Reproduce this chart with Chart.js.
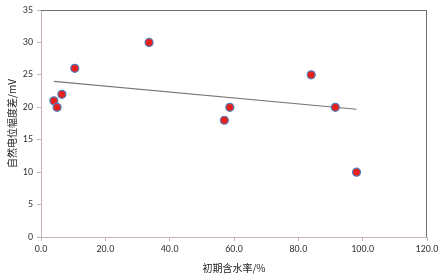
<!DOCTYPE html>
<html>
<head>
<meta charset="utf-8">
<script src="https://cdn.jsdelivr.net/npm/chart.js@4/dist/chart.umd.min.js"></script>
<style>
  html, body { margin: 0; padding: 0; background: #fff; }
  #wrap { width: 441px; height: 274px; }
</style>
</head>
<body>
<div id="wrap"><canvas id="myChart" width="441" height="274"></canvas></div>
<script>
// data
const waterRate = [4.0, 5.0, 6.5, 10.5, 33.6, 57.0, 58.7, 84.0, 91.5, 98.1];
const potentialDiff = [21, 20, 22, 26, 30, 18, 20, 25, 20, 10];
const trendX = [4.0, 98.1];
const trendY = [24.0, 19.7];
const xTicks = [0, 20, 40, 60, 80, 100, 120];
const yTicks = [0, 5, 10, 15, 20, 25, 30, 35];

const points = waterRate.map((x, i) => ({ x: x, y: potentialDiff[i] }));
const trend = trendX.map((x, i) => ({ x: x, y: trendY[i] }));

// box around the plot area
const frame = {
    id: 'frame',
    afterDraw(chart) {
        const a = chart.chartArea;
        const c = chart.ctx;
        c.save();
        c.strokeStyle = '#6e6e6e';
        c.lineWidth = 1;
        c.beginPath();
        c.moveTo(a.left, a.top + 0.5);
        c.lineTo(a.right - 0.5, a.top + 0.5);
        c.lineTo(a.right - 0.5, a.bottom);
        c.stroke();
        c.restore();
    }
};

const tickFont = { family: 'Calibri, Carlito, "Liberation Sans", sans-serif', size: 10 };
const titleFont = { family: '"Noto Sans CJK SC", serif', size: 10 };

const ctx = document.getElementById('myChart').getContext('2d');
new Chart(ctx, {
    type: 'scatter',
    data: {
        datasets: [{
            label: 'trend',
            type: 'line',
            data: trend,
            borderColor: '#7f7474',
            borderWidth: 1.2,
            pointRadius: 0,
            fill: false,
            order: 2
        }, {
            label: 'data',
            data: points,
            backgroundColor: '#e8211d',
            borderColor: '#4f7fbf',
            borderWidth: 1.2,
            pointRadius: 4,
            order: 1
        }]
    },
    options: {
        responsive: false,
        animation: false,
        layout: { padding: { top: 8, right: 14, left: 0, bottom: 0 } },
        plugins: { legend: false, tooltip: { enabled: false } },
        scales: {
            x: {
                type: 'linear',
                min: 0,
                max: 120,
                afterBuildTicks: (s) => { s.ticks = xTicks.map(v => ({ value: v })); },
                afterFit: (s) => { s.height = 37; },
                ticks: {
                    font: tickFont,
                    color: '#333',
                    padding: 2,
                    maxRotation: 0,
                    callback: (v) => v.toFixed(1)
                },
                grid: { drawOnChartArea: false, tickLength: 4, color: '#c4b4b8' },
                border: { color: '#c4b4b8', width: 1 },
                title: {
                    display: true,
                    text: '初期含水率/%',
                    font: titleFont,
                    color: '#222',
                    padding: { top: 3, bottom: 0 }
                }
            },
            y: {
                min: 0,
                max: 35,
                afterBuildTicks: (s) => { s.ticks = yTicks.map(v => ({ value: v })); },
                afterFit: (s) => { s.width = 41; },
                ticks: { font: tickFont, color: '#333', padding: 4 },
                grid: { drawOnChartArea: false, tickLength: 4, color: '#c4b4b8' },
                border: { color: '#c4b4b8', width: 1 },
                title: {
                    display: true,
                    text: '自然电位幅度差/mV',
                    font: titleFont,
                    color: '#222',
                    padding: { top: 6, bottom: 2 }
                }
            }
        }
    },
    plugins: [frame]
});
</script>
</body>
</html>
